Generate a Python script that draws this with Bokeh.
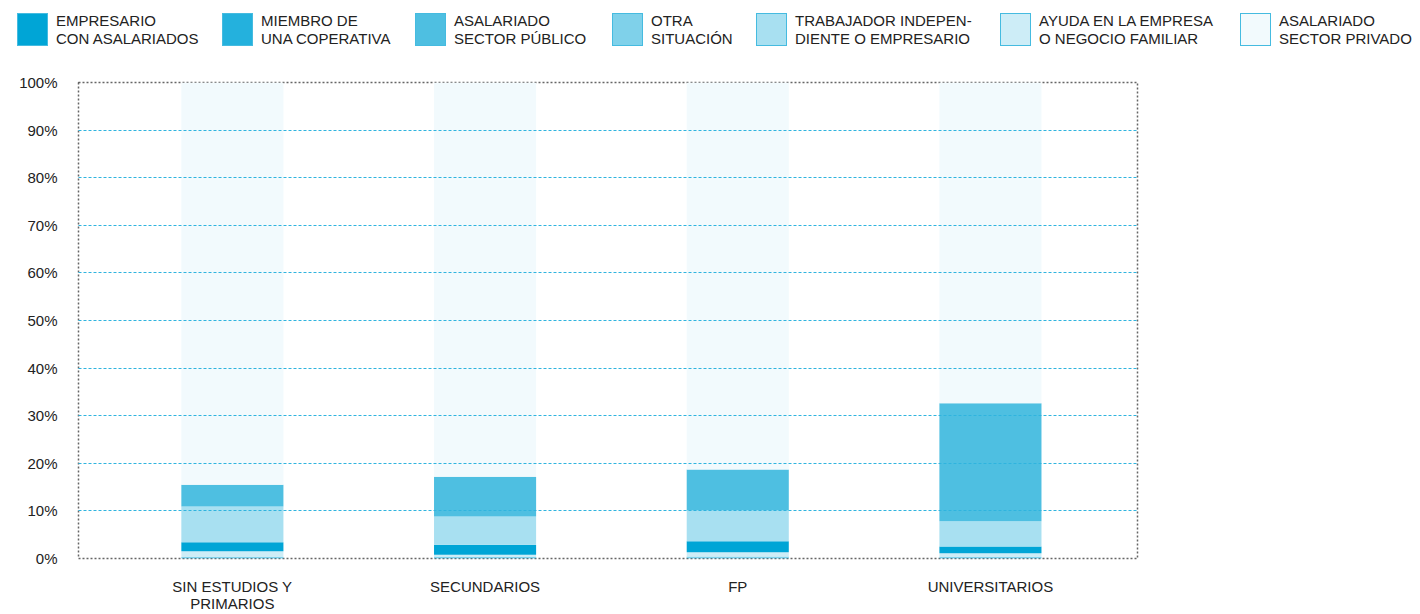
from bokeh.plotting import figure
from bokeh.layouts import column
from bokeh.models import ColumnDataSource, FixedTicker, Range1d, PrintfTickFormatter, Div
from bokeh.embed import file_html
from bokeh.resources import INLINE

# ---- data ----
categories = ["SIN ESTUDIOS Y\nPRIMARIOS", "SECUNDARIOS", "FP", "UNIVERSITARIOS"]
miembro = [0.1, 0.1, 0.1, 0.1]
otra = [0.2, 0.2, 0.3, 0.2]
ayuda = [1.2, 0.5, 0.9, 0.8]
empresario = [1.9, 2.1, 2.3, 1.4]
trabajador = [7.5, 5.9, 6.5, 5.3]
publico = [4.6, 8.4, 8.6, 24.8]
privado = [84.5, 82.8, 81.3, 67.4]

legend_keys = ["empresario", "miembro", "publico", "otra", "trabajador", "ayuda", "privado"]
legend_labels = ["EMPRESARIO\nCON ASALARIADOS", "MIEMBRO DE\nUNA COPERATIVA", "ASALARIADO\nSECTOR PÚBLICO",
                 "OTRA\nSITUACIÓN", "TRABAJADOR INDEPEN-\nDIENTE O EMPRESARIO",
                 "AYUDA EN LA EMPRESA\nO NEGOCIO FAMILIAR", "ASALARIADO\nSECTOR PRIVADO"]
legend_colors = ["#00a5d6", "#24b1dd", "#4ebfe1", "#7fd1ea", "#a8e0f1", "#cdedf7", "#f2fafd"]
y_ticks = [0, 10, 20, 30, 40, 50, 60, 70, 80, 90, 100]

FONT = "Liberation Sans"
TXT = "#222222"
color_of = dict(zip(legend_keys, legend_colors))

# ---- legend (HTML, real text) ----
box_left = [17, 222, 415, 612, 756, 1000, 1240]
parts = []
for L, lab, col in zip(box_left, legend_labels, legend_colors):
    parts.append(
        f'<div style="position:absolute;left:{L}px;top:13px;width:31px;height:33px;'
        f'box-sizing:border-box;background:{col};border:1px solid #45bbe0;"></div>'
        f'<div style="position:absolute;left:{L + 39}px;top:12px;font-family:\'{FONT}\';'
        f'font-size:15px;line-height:17.5px;color:{TXT};white-space:nowrap;">'
        + lab.replace("\n", "<br>") + '</div>')
leg = Div(text='<div style="position:relative;width:1418px;height:60px;">' + "".join(parts) + '</div>',
          width=1418, height=60, margin=(0, 0, 0, 0))

# ---- bars ----
stack_order = ["miembro", "otra", "ayuda", "empresario", "trabajador", "publico", "privado"]
xs = list(range(len(categories)))
src = ColumnDataSource(dict(x=xs, miembro=miembro, otra=otra, ayuda=ayuda, empresario=empresario,
                            trabajador=trabajador, publico=publico, privado=privado))

p = figure(width=1418, height=554, output_backend="svg", toolbar_location=None,
           x_range=Range1d(-0.609, 3.582), y_range=Range1d(0, 100),
           min_border_left=78, min_border_right=281, min_border_top=22, min_border_bottom=56)
p.vbar_stack(stack_order, x="x", width=0.404, source=src,
             color=[color_of[k] for k in stack_order], line_color=None)

p.xaxis.ticker = FixedTicker(ticks=xs)
p.xaxis.major_label_overrides = {i: c for i, c in enumerate(categories)}
p.yaxis.ticker = FixedTicker(ticks=y_ticks)
p.yaxis.formatter = PrintfTickFormatter(format="%d%%")
for ax in (p.xaxis, p.yaxis):
    ax.axis_line_color = None
    ax.major_tick_line_color = None
    ax.minor_tick_line_color = None
    ax.major_label_text_font = FONT
    ax.major_label_text_color = TXT
p.yaxis.major_label_text_font_size = "15px"
p.yaxis.major_label_standoff = 15
p.xaxis.major_label_text_font_size = "15px"
p.xaxis.major_label_text_line_height = 1.0
p.xaxis.major_label_standoff = 13

p.xgrid.visible = False
p.ygrid.ticker = FixedTicker(ticks=y_ticks[1:-1])
p.ygrid.grid_line_color = "#2fb4df"
p.ygrid.grid_line_dash = "3 2"
p.ygrid.grid_line_width = 1
p.ygrid.level = "overlay"
p.outline_line_color = "#666666"
p.outline_line_dash = "2 2"
p.outline_line_width = 1.5

layout = column(leg, p, spacing=0)
open("out.html", "w").write(file_html(layout, INLINE))
